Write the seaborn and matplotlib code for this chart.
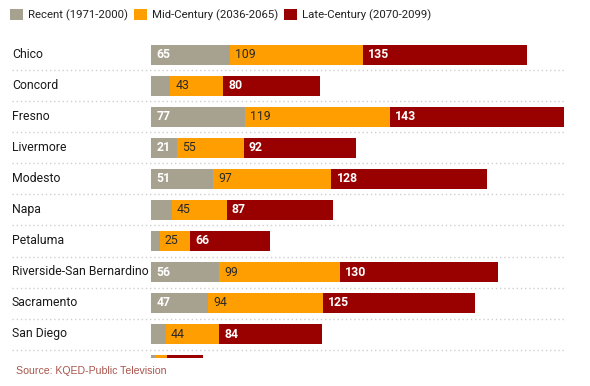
import numpy as np
import matplotlib
matplotlib.use("Agg")
import matplotlib.pyplot as plt
import seaborn as sns
from matplotlib.patches import Patch

GRAY   = "#A7A290"
ORANGE = "#FF9E00"
RED    = "#990000"

# ── Data ──────────────────────────────────────────────────────
cities = ["Chico", "Concord", "Fresno", "Livermore", "Modesto", "Napa",
          "Petaluma", "Riverside-San Bernardino", "Sacramento", "San Diego",
          "San Francisco"]
recent = [65, 16, 77, 21, 51, 17, 7, 56, 47, 12, 3]
mid    = [109, 43, 119, 55, 97, 45, 25, 99, 94, 44, 10]
late   = [135, 80, 143, 92, 128, 87, 66, 130, 125, 84, 30]
series_names = ["Recent (1971-2000)", "Mid-Century (2036-2065)", "Late-Century (2070-2099)"]

recent = np.array(recent)
mid = np.array(mid)
late = np.array(late)
cum_mid = recent + mid
cum_late = recent + mid + late

sns.set_style("white")
plt.rcParams["font.family"] = ["Roboto", "DejaVu Sans"]

W, H = 590, 386
fig = plt.figure(figsize=(W / 100, H / 100), dpi=100)
# axes spans from x=12 to 564 px, y=39.5 to 357.5 px
ax = fig.add_axes([12 / W, 1 - 357.5 / H, (564 - 12) / W, (357.5 - 39.5) / H])

bar_w = 20 / 31
sns.barplot(x=cum_late, y=cities, orient="h", color=RED, width=bar_w,
            saturation=1, ax=ax)
sns.barplot(x=cum_mid, y=cities, orient="h", color=ORANGE, width=bar_w,
            saturation=1, ax=ax)
sns.barplot(x=recent, y=cities, orient="h", color=GRAY, width=bar_w,
            saturation=1, ax=ax)
for p in ax.patches:
    p.set_linewidth(0)

px_per_unit = (564 - 151) / 339
ax.set_xlim(-(151 - 12) / px_per_unit, 339)
ax.set_ylim((357.5 - 55) / 31, -0.5)
ax.set_xticks([])
ax.set_yticks([])
ax.set_xlabel("")
ax.set_ylabel("")
for s in ax.spines.values():
    s.set_visible(False)

# separators + city labels (last row is cut off by the panel edge)
x0 = ax.get_xlim()[0]
n_shown = len(cities) - 1
for i, city in enumerate(cities):
    if i < n_shown:
        ax.text(x0, i - 0.03, city, va="center", ha="left", fontsize=8.8,
                color="#1a1a1a")
    ax.axhline(i + 0.5, color="#CFCFCF", lw=1, ls=(0, (1, 2)))

# value labels
for i in range(n_shown):
    if recent[i] >= 20:
        ax.annotate(str(recent[i]), (0, i), xytext=(3.8, 0),
                    textcoords="offset points", va="center", ha="left",
                    fontsize=8.8, color="white", fontweight="bold")
    ax.annotate(str(mid[i]), (recent[i], i), xytext=(3.8, 0),
                textcoords="offset points", va="center", ha="left",
                fontsize=8.8, color="#2a2a2a")
    ax.annotate(str(late[i]), (cum_mid[i], i), xytext=(3.8, 0),
                textcoords="offset points", va="center", ha="left",
                fontsize=8.8, color="white", fontweight="bold")

handles = [Patch(facecolor=c, edgecolor="none") for c in [GRAY, ORANGE, RED]]
fig.legend(handles, series_names, loc="upper left", ncol=3,
           bbox_to_anchor=(10 / W, 1 - 9 / H), frameon=False, fontsize=8.2,
           handlelength=1.15, handleheight=1.15, handletextpad=0.4,
           columnspacing=0.55, borderaxespad=0, borderpad=0,
           labelcolor="#222222")

fig.text(16.5 / W, 1 - 371 / H, "Source: KQED-Public Television",
         family="Liberation Sans", fontsize=7.6, color="#A8554C",
         va="center", ha="left")

fig.savefig("out.png", dpi=100)
